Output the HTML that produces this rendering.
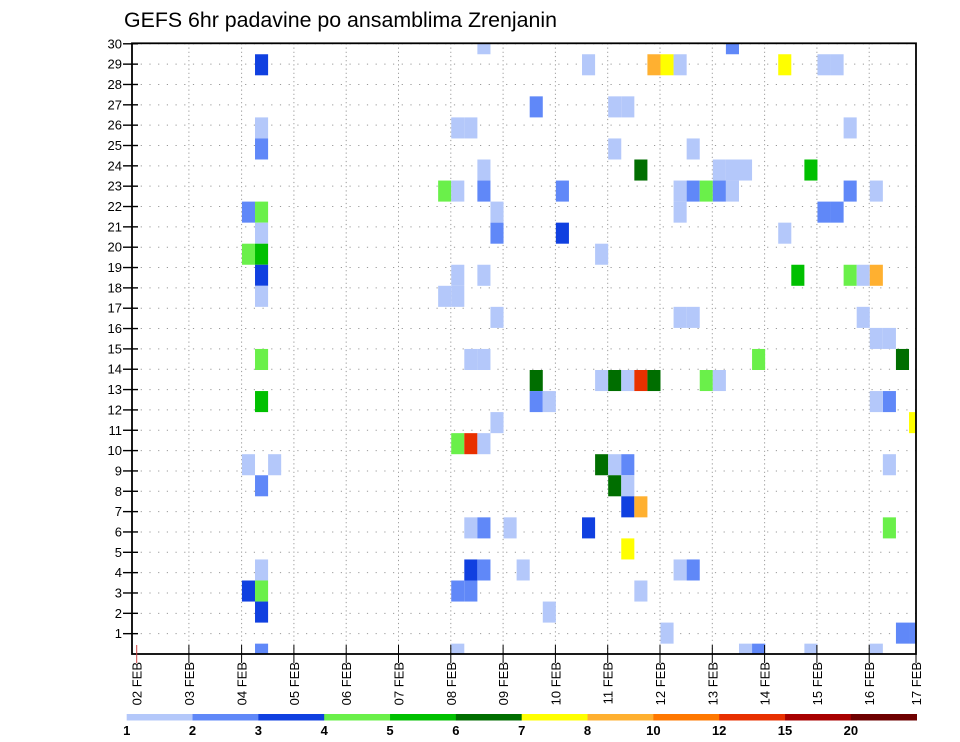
<!DOCTYPE html>
<html><head><meta charset="utf-8"><style>
html,body{margin:0;padding:0;background:#fff;}
svg{display:block;font-family:"Liberation Sans",sans-serif;}
</style></head><body>
<svg id="chart" width="960" height="742" viewBox="0 0 960 742" xmlns="http://www.w3.org/2000/svg">
<text x="124" y="27" font-size="21" textLength="433" lengthAdjust="spacingAndGlyphs" fill="#000">GEFS 6hr padavine po ansamblima Zrenjanin</text>
<defs><clipPath id="plotclip"><rect x="132" y="43.3" width="784" height="610.7"/></clipPath></defs>
<g id="grid"></g>
<g id="cells" clip-path="url(#plotclip)"></g>
<rect x="132" y="43.3" width="784" height="610.7" fill="none" stroke="#000" stroke-width="1.8"/>
<g id="yaxis"></g>
<g id="xaxis"></g>
<g id="legend"></g>
</svg>
<script>
// ---- data ----
const dayLabels = ["02 FEB","03 FEB","04 FEB","05 FEB","06 FEB","07 FEB","08 FEB","09 FEB","10 FEB","11 FEB","12 FEB","13 FEB","14 FEB","15 FEB","16 FEB","17 FEB"];
const yTickLabels = [1,2,3,4,5,6,7,8,9,10,11,12,13,14,15,16,17,18,19,20,21,22,23,24,25,26,27,28,29,30];
const levelLabels = ["1","2","3","4","5","6","7","8","10","12","15","20"];
const levelColors = ["#b4c8fa","#6088f8","#1040e0","#6af04a","#00c000","#006e00","#ffff00","#ffb030","#ff7800","#e83000","#a80000","#6e0000"];
// cells: 6-hour step index, ensemble member index, precipitation class (1..12)
const cellStep   = [26,9,30,9,24,25,9,26,23,24,26,8,9,27,9,27,8,9,9,24,26,9,23,24,27,9,25,26,
  45,34,39,40,41,49,52,53,36,37,54,36,42,38,44,45,46,51,32,41,42,43,44,45,54,56,41,52,53,32,49,35,50,54,55,56,41,42,55,56,57,
  30,9,30,31,27,24,25,26,8,10,9,25,26,28,9,25,26,29,8,9,24,25,9,9,24,
  47,58,35,36,37,38,39,43,44,57,56,59,35,36,37,57,36,37,37,38,34,57,37,41,42,38,31,40,58,59,46,47,51,56];
const cellMember = [29,28,26,25,25,25,24,23,22,22,22,21,21,21,20,20,19,19,18,18,18,17,17,17,16,14,14,14,
  29,28,28,28,28,28,28,28,26,26,25,24,24,23,23,23,23,23,22,22,22,22,22,22,22,22,21,21,21,20,20,19,18,18,18,18,16,16,16,15,15,
  13,12,12,12,11,10,10,10,9,9,8,6,6,6,4,4,4,4,3,3,3,3,2,0,0,
  14,14,13,13,13,13,13,13,13,12,12,11,9,9,9,9,8,8,7,7,6,6,5,4,4,3,2,1,1,1,0,0,0,0];
const cellClass  = [1,3,2,1,1,1,2,1,4,1,2,2,4,1,1,2,4,5,3,1,1,1,1,1,1,4,1,1,
  2,1,8,7,1,7,1,1,1,1,1,1,1,6,1,1,1,5,2,1,2,4,2,1,2,1,1,2,2,3,1,1,5,4,1,8,1,1,1,1,1,
  6,5,2,1,1,4,10,1,1,1,2,1,2,1,1,3,2,1,3,4,2,2,3,2,1,
  4,6,1,6,1,10,6,4,1,2,1,7,6,1,2,1,6,1,3,8,3,4,7,1,2,1,1,1,2,2,1,2,1,1];

// ---- scales ----
const PL=132, PR=916, PT=43.3, PB=654;
function xStep(k){ return 137.3 + k*13.08; }
const cellW = 13.08;
function yMemberTop(j){ return 664.7 - (j+1)*21.05; }
const cellH = 21.05;
function yTick(v){ return PB - v*20.34; }
const dayX = [136.7,188.9,241.6,293.9,346.2,398.5,450.8,503.1,555.4,607.7,660,712.3,764.6,816.9,869.2,916];
function xDay(i){ return dayX[i]; }

const NS="http://www.w3.org/2000/svg";
function mk(tag, attrs, parent){ const e=document.createElementNS(NS,tag); for(const a in attrs) e.setAttribute(a,attrs[a]); parent.appendChild(e); return e; }

const grid=document.getElementById('grid');
yTickLabels.forEach(v=>{
  const l=mk('line',{x1:PL,x2:PR,y1:yTick(v),y2:yTick(v),stroke:'#999','stroke-width':1,'stroke-dasharray':'1.2,7.5'},grid);
  
  
});
dayLabels.forEach((d,i)=>{
  if(i===0||i===dayLabels.length-1) return;
  const l=mk('line',{x1:xDay(i),x2:xDay(i),y1:PT,y2:PB,stroke:'#999','stroke-width':1,'stroke-dasharray':'1.2,3'},grid);
  
  
});

const cells=document.getElementById('cells');
cellStep.forEach((k,i)=>{
  const r=mk('rect',{x:xStep(k),y:yMemberTop(cellMember[i]),width:cellW,height:cellH,fill:levelColors[cellClass[i]-1]},cells);
  
  
});

const ya=document.getElementById('yaxis');
yTickLabels.forEach(v=>{
  const t=mk('line',{x1:123,x2:138,y1:yTick(v),y2:yTick(v),stroke:'#000','stroke-width':1.4},ya);
  
  
  const tx=mk('text',{x:122,y:yTick(v)+4.5,'font-size':13,'text-anchor':'end',fill:'#000'},ya);
  tx.textContent=String(v);
  
  
});

const xa=document.getElementById('xaxis');
dayLabels.forEach((d,i)=>{
  const x=xDay(i);
  const t=mk('line',{x1:x,x2:x,y1:645,y2:663,stroke:i===0?'#c44':'#000','stroke-width':1},xa);
  
  
  const tx=mk('text',{x:0,y:0,'font-size':13,'text-anchor':'end',fill:'#000',transform:`translate(${x+5},662) rotate(-90)`},xa);
  tx.textContent=d;
  
  
});

const lg=document.getElementById('legend');
const LX0=126.7, LX1=916.7, segW=(LX1-LX0)/levelColors.length;
levelColors.forEach((c,i)=>{
  const r=mk('rect',{x:LX0+i*segW,y:714,width:segW+0.3,height:6.5,fill:c},lg);
  
  
});
levelLabels.forEach((s,i)=>{
  const tx=mk('text',{x:LX0+i*segW,y:735,'font-size':13,'font-weight':'bold','text-anchor':'middle',fill:'#000'},lg);
  tx.textContent=s;
  
  
});
</script>
</body></html>
